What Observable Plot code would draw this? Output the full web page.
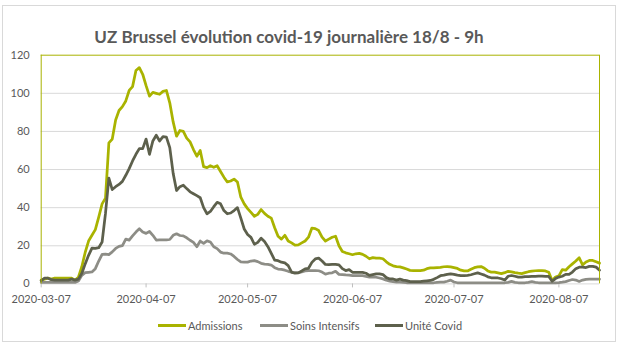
<!DOCTYPE html>
<html><head><meta charset="utf-8">
<script src="https://cdn.jsdelivr.net/npm/d3@7"></script>
<script src="https://cdn.jsdelivr.net/npm/@observablehq/plot@0.6"></script>
<style>
body{margin:0;background:#fff;}
#wrap{position:relative;width:620px;height:353px;overflow:hidden;font-family:Lato,"Open Sans",sans-serif;}
#border{position:absolute;left:2px;top:5px;width:614px;height:337px;border:1px solid #d9d9d9;box-sizing:border-box;}
#chart{position:absolute;left:0;top:0;}
#title{position:absolute;left:0;top:27px;width:578px;text-align:center;font-weight:bold;font-size:17px;line-height:20px;color:#595959;white-space:nowrap;}
.leg{position:absolute;top:318px;height:14px;display:flex;align-items:center;font-size:11px;color:#595959;white-space:nowrap;}
.sw{display:inline-block;width:28px;height:3px;margin-right:2px;}
</style>
</head><body>
<div id="wrap">
  <div id="border"></div>
  <div id="chart"></div>
  <div id="title"></div>
  <div id="legend"></div>
</div>
<script>
const titleText = "UZ Brussel évolution covid-19 journalière 18/8 - 9h";
const seriesNames = ["Admissions", "Soins Intensifs", "Unité Covid"];
const seriesColors = ["#a9b300", "#8d8d86", "#5d604c"];
const startDate = "2020-03-07";
const endDate = "2020-08-19";
const xTicks = ["2020-03-07", "2020-04-07", "2020-05-07", "2020-06-07", "2020-07-07", "2020-08-07"];
const yTicks = [0, 20, 40, 60, 80, 100, 120];

// daily values from 2020-03-07
const admissions = [
  2, 2.5, 3, 2.5, 3, 3, 3, 3, 3, 3,
  2, 3.5, 9, 16.5, 22.5, 25.5, 28.5, 35, 42, 45,
  74, 76, 86, 91, 93, 96, 101.5, 103.5, 112, 113.5,
  110, 104, 98.5, 100.5, 100, 99.5, 101, 101.5, 95, 85,
  77.5, 80.5, 80, 76.5, 74.5, 70.5, 67, 70, 61.5, 61,
  62, 61.2, 62, 59, 56, 53.5, 54, 55, 53.5, 45.5,
  42, 39.5, 37.5, 35.5, 36.5, 39, 37, 35.5, 34.5, 29.5,
  25, 23.5, 25.5, 22.5, 21.5, 20.3, 20.5, 21.5, 22.5, 24.5,
  29.3, 29, 28, 24.5, 22.5, 23.5, 24.5, 25, 20, 17,
  16.3, 15.8, 15.3, 15.8, 16, 15.5, 14.5, 13.2, 13.8, 13.5,
  13.5, 13.2, 11.6, 10.3, 9.5, 9.1, 8.9, 8.4, 7.8, 7.1,
  7, 7, 7, 7.2, 8, 8.4, 8.4, 8.6, 8.7, 9,
  9.1, 8.9, 8.5, 8.1, 7.2, 6.8, 6.8, 7.7, 8.5, 8.9,
  9.1, 8.2, 6.8, 6.2, 6.2, 5.8, 5.4, 5.9, 6.6, 6.3,
  5.9, 5.6, 5.4, 5.9, 6.4, 6.7, 6.9, 7, 7, 6.8,
  6.1, 1.8, 3.6, 4.2, 7.5, 7.2, 9, 10.5, 12, 13.7,
  10, 11.5, 12.3, 12.3, 11.6, 10.9
];
const soinsIntensifs = [
  0.8, 0.8, 0.8, 0.8, 0.8, 0.8, 0.8, 0.8, 0.8, 0.8,
  0.8, 1.5, 4.5, 5.9, 6.1, 6.3, 8, 12, 15.5, 15.6,
  15.4, 16.8, 18.6, 19.7, 20.1, 23.5, 23, 25.2, 27.2, 28.9,
  27.2, 26.5, 27.5, 25.5, 23, 23.1, 23.1, 23.1, 23.3, 25.5,
  26.3, 25.4, 25.2, 24.2, 22.9, 21.8, 19.5, 22.5, 21.3, 22.6,
  22, 19.5, 18.5, 16.7, 16.1, 16.1, 15.7, 14.4, 12.8, 11.5,
  11.4, 11.4, 12, 12.2, 11.7, 10.8, 10.4, 10.2, 9.9, 8.5,
  7.8, 7.6, 7.2, 6.6, 6.1, 5.9, 5.9, 6.3, 6.8, 7,
  7, 7, 6.9, 6.2, 5.1, 5.6, 5.8, 6.6, 5, 4.9,
  4.7, 4.6, 4.4, 4.3, 4.3, 4.3, 3.9, 3.6, 3.5, 3.5,
  3.1, 2.6, 1.9, 1.5, 1.2, 0.9, 0.9, 0.8, 0.6, 0.5,
  0.5, 0.5, 0.5, 0.5, 0.5, 0.5, 0.6, 0.8, 0.9, 0.9,
  1.4, 2, 1, 0.6, 0.5, 0.5, 0.5, 0.5, 0.5, 0.5,
  0.5, 0.5, 0.5, 0.5, 0.5, 0.5, 0.5, 0.6, 0.8, 1.3,
  0.8, 0.6, 0.6, 0.6, 0.8, 1.2, 0.8, 0.6, 0.6, 0.6,
  0.6, 0.5, 0.6, 0.7, 0.9, 1.2, 1.8, 2.3, 2, 1.3,
  2, 2.4, 2.5, 2.5, 2.5, 2.5
];
const uniteCovid = [
  1.7, 3, 3, 2.2, 2, 2, 2, 2, 2, 2.5,
  2, 2.5, 5.5, 10.5, 15, 18.8, 18.6, 19, 22, 37,
  55.5, 49.5, 51, 52.2, 53.8, 57, 60.5, 64.5, 68, 71,
  71, 76, 68, 75, 78, 75, 77.3, 77, 71.5, 58,
  49, 51, 51.8, 50, 48.3, 47.3, 46.3, 45.2, 40, 36.8,
  38, 40.5, 42.8, 42, 38.5, 36.8, 37.2, 38.5, 40, 34.5,
  28.8, 25.9, 24.4, 20.8, 21.8, 24, 22.2, 19.5, 16, 12.5,
  12.2, 11.4, 11, 9.6, 6.2, 5.6, 5.8, 6.8, 7.9, 8.2,
  11.3, 13.1, 13.5, 12, 10.2, 10.1, 10.2, 10.2, 10, 8,
  7, 7.5, 6.1, 6.1, 6.1, 6, 5.6, 4.5, 4.9, 5.3,
  5.3, 4.9, 3.3, 2.6, 2.6, 2, 2.5, 2, 1.7, 1.2,
  1.2, 1.2, 1.2, 1.4, 1.6, 1.8, 2.4, 3.3, 4.3, 4.6,
  5, 5.3, 5, 4.6, 4.4, 4.4, 4.5, 4.8, 5.3, 5.8,
  5.2, 4.6, 3.7, 3.2, 3.1, 3.1, 2.7, 2, 4, 4.4,
  4, 3.6, 3.5, 3.8, 3.8, 3.9, 4, 4.1, 4.1, 4,
  3.9, 1.4, 2.8, 3.6, 4, 5, 5, 6.2, 8, 8.8,
  8.8, 8.6, 9.2, 9.2, 8.8, 7.2
];
const seriesValues = [admissions, soinsIntensifs, uniteCovid];

const parse = d3.utcParse("%Y-%m-%d");
const x0 = parse(startDate), x1 = parse(endDate);
const rows = seriesValues.map((vals, s) => vals.map((v, i) => ({date: d3.utcDay.offset(x0, i), value: v, series: seriesNames[s]})));

const green = seriesColors[0];
const chart = Plot.plot({
  width: 620, height: 310,
  marginLeft: 40.7, marginRight: 21, marginTop: 54.7, marginBottom: 26.6,
  style: {background: "transparent", fontFamily: "Lato, 'Open Sans', sans-serif", fontSize: "11px", color: "#595959", overflow: "visible"},
  x: {type: "utc", domain: [x0, x1]},
  y: {domain: [0, 120]},
  marks: [
    Plot.ruleY(yTicks.filter(d => d > 0 && d < 120), {stroke: "#d9d9d9", strokeWidth: 1}),
    Plot.ruleY([0], {stroke: "#d9d9d9", strokeWidth: 1}),
    Plot.axisX({ticks: xTicks.map(parse), tickFormat: d3.utcFormat("%Y-%m-%d"), tickSize: 4, tickPadding: 7, stroke: "#bfbfbf", fill: "#595959", label: null}),
    Plot.axisY({ticks: yTicks, tickSize: 0, tickPadding: 11.5, fill: "#595959", label: null}),
    ...rows.map((r, s) => Plot.line(r, {x: "date", y: "value", stroke: seriesColors[s], strokeWidth: 2.75, strokeLinejoin: "round", strokeLinecap: "round"})),
    Plot.ruleY([120], {stroke: green, strokeWidth: 1}),
    Plot.ruleX([x0, x1], {stroke: green, strokeWidth: 1})
  ]
});
document.getElementById("chart").appendChild(chart);
document.getElementById("title").textContent = titleText;

const legendLeft = [158, 260, 375];
const legend = document.getElementById("legend");
seriesNames.forEach((n, i) => {
  const d = document.createElement("div");
  d.className = "leg";
  d.style.left = legendLeft[i] + "px";
  const sw = document.createElement("span");
  sw.className = "sw";
  sw.style.background = seriesColors[i];
  d.appendChild(sw);
  d.appendChild(document.createTextNode(n));
  legend.appendChild(d);
});
</script>
</body></html>
